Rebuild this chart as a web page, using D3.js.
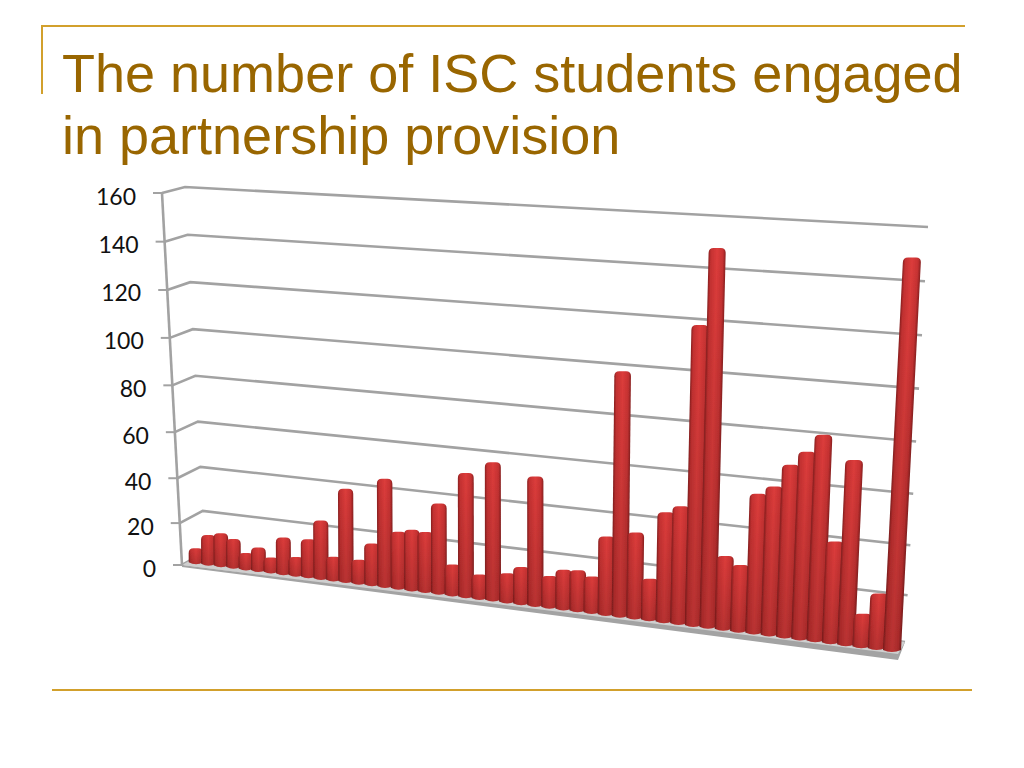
<!DOCTYPE html>
<html>
<head>
<meta charset="utf-8">
<script src="https://cdn.jsdelivr.net/npm/d3@7"></script>
<style>
  html, body { margin: 0; padding: 0; background: #fff; }
  svg { display: block; }
</style>
</head>
<body>
<svg width="1024" height="768"></svg>
<script>
// values, one per bar, left to right
var studentCounts = [7, 14, 15.5, 13.5, 7.7, 11, 7, 17, 8.7, 17.5, 26.5, 11, 41.5, 11, 19, 47.5,
  25.5, 27, 26.7, 39.5, 14, 53.5, 11, 59, 13, 16.5, 55, 14, 17.5, 18, 16, 33.5,
  100, 36.5, 18, 46, 49, 120, 149.5, 31, 28, 57, 60.5, 69.5, 75, 82, 41.5, 73.5, 14, 23, 150];
var yTicks = [0, 20, 40, 60, 80, 100, 120, 140, 160];
var titleLines = ["The number of ISC students engaged", "in partnership provision"];

var svg = d3.select("svg");
var gold = "#d2a02c", titleColor = "#996600", gridColor = "#a2a2a2";

// frame lines of the slide
svg.append("path").attr("d", "M42,94V26H965").attr("fill", "none").attr("stroke", gold).attr("stroke-width", 2);
svg.append("line").attr("x1", 52).attr("x2", 972).attr("y1", 690).attr("y2", 690).attr("stroke", gold).attr("stroke-width", 2);

svg.selectAll(".title").data(titleLines).enter().append("text")
  .attr("class", "title")
  .attr("x", 62)
  .attr("y", function(d, i) { return 92 + i * 62; })
  .attr("fill", titleColor)
  .style("font-family", "'Liberation Sans', Arial, sans-serif")
  .style("font-size", "54px")
  .text(function(d) { return d; });

// the chart is a tilted box, so each wall edge gets its own pair of scales
var frac = d3.scalePow().exponent(1.05).domain([0, 160]).range([0, 1]);
var frontX = d3.scaleLinear().domain([0, 1]).range([182, 162]);
var frontY = d3.scaleLinear().domain([0, 1]).range([565, 193]);
var backX = d3.scaleLinear().domain([0, 1]).range([205, 185]);
var backY = d3.scaleLinear().domain([0, 1]).range([552, 187]);
var endX = d3.scaleLinear().domain([0, 1]).range([905, 928]);
var endY = d3.scaleLinear().domain([0, 1]).range([642, 227]);

// bar spacing widens to the right with the perspective
var barX = d3.scaleLinear().domain([0, 12, 15, 23, 32, 38, 50]).range([196, 346, 385, 493, 620, 708, 892]);
var baseY = d3.scaleLinear().domain([195, 892]).range([562, 650]);
var barH = d3.scaleLinear().domain([195, 892]).range([370, 420]);
var barLean = d3.scaleLinear().domain([195, 550, 892]).range([-3, 0, 21.5]);
var barW = d3.scaleLinear().domain([195, 892]).range([14.5, 18]);

var defs = svg.append("defs");
defs.append("filter").attr("id", "soft").append("feGaussianBlur").attr("stdDeviation", 0.5);

var side = defs.append("linearGradient").attr("id", "barSide");
[[0, "#8a2020"], [0.14, "#c43131"], [0.5, "#dc3c3b"], [0.84, "#c63232"], [1, "#8a2020"]].forEach(function(s) {
  side.append("stop").attr("offset", s[0]).attr("stop-color", s[1]);
});
var shade = defs.append("linearGradient").attr("id", "barShade").attr("x1", 0).attr("x2", 0).attr("y1", 0).attr("y2", 1);
shade.append("stop").attr("offset", 0).attr("stop-color", "#000").attr("stop-opacity", 0);
shade.append("stop").attr("offset", 1).attr("stop-color", "#000").attr("stop-opacity", 0.16);

var chart = svg.append("g").attr("filter", "url(#soft)");

// gridlines, running front corner -> back corner -> right end
var gridLine = d3.line();
chart.selectAll(".grid").data(yTicks).enter().append("path")
  .attr("class", "grid")
  .attr("fill", "none")
  .attr("stroke", gridColor)
  .attr("stroke-width", 2.6)
  .attr("d", function(d) {
    var f = frac(d);
    return gridLine([[frontX(f), frontY(f)], [backX(f), backY(f)], [endX(f), endY(f)]]);
  });

// floor
chart.append("path")
  .attr("fill", "#cfcfcf")
  .attr("d", gridLine([[frontX(0), frontY(0)], [backX(0), backY(0)], [endX(0), endY(0)], [898, 657]]) + "Z");
chart.append("path")
  .attr("fill", "#a3a3a3")
  .attr("d", gridLine([[frontX(0), frontY(0)], [898, 654], [endX(0), endY(0)], [898, 660], [frontX(0), frontY(0) + 2]]) + "Z");

// wall edge on the left
chart.append("line")
  .attr("x1", frontX(0)).attr("y1", frontY(0))
  .attr("x2", frontX(1)).attr("y2", frontY(1))
  .attr("stroke", gridColor).attr("stroke-width", 2.6);

// axis ticks and labels, each tick moved onto the slanted edge
var yAxis = d3.axisLeft(d3.scaleLinear().domain([0, 160]).range([0, 1]))
  .tickValues(yTicks).tickSize(9).tickPadding(17);
var axisG = svg.append("g").call(yAxis);
axisG.select(".domain").remove();
axisG.selectAll(".tick").attr("transform", function(d) {
  var f = frac(d);
  return "translate(" + frontX(f) + "," + frontY(f) + ")";
});
axisG.selectAll(".tick line").attr("stroke", gridColor).attr("stroke-width", 2);
axisG.selectAll(".tick text")
  .attr("fill", "#111")
  .attr("dy", "0.5em")
  .style("font-family", "Lato, 'Open Sans', sans-serif")
  .style("font-size", "23px");

// bars: each one is drawn upright then sheared along its lean
var bars = chart.selectAll(".bar").data(studentCounts).enter().append("g")
  .attr("class", "bar")
  .attr("transform", function(d, i) {
    var x = barX(i);
    var angle = Math.atan(barLean(x) / barH(x)) * 180 / Math.PI;
    return "translate(" + x + "," + baseY(x) + ") skewX(" + (-angle) + ")";
  });

function barPath(d, i) {
  var x = barX(i), w = barW(x) / 2, h = barH(x) * frac(d), r = Math.min(w, 5);
  return "M" + (-w) + ",0V" + (-h + r) +
    "Q" + (-w) + "," + (-h) + " " + (-w + r) + "," + (-h) +
    "H" + (w - r) +
    "Q" + w + "," + (-h) + " " + w + "," + (-h + r) +
    "V0Q0,4 " + (-w) + ",0Z";
}
bars.append("path").attr("d", barPath).attr("fill", "url(#barSide)");
bars.append("path").attr("d", barPath).attr("fill", "url(#barShade)");
</script>
</body>
</html>
